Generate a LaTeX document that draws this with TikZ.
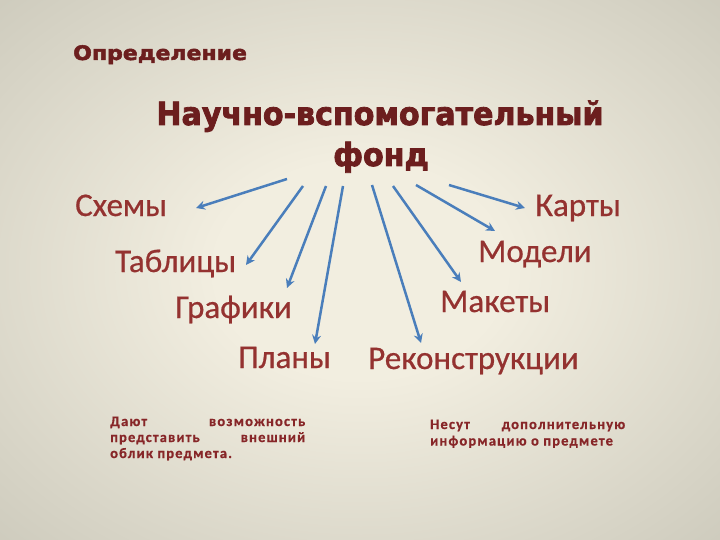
\documentclass[tikz,border=0pt]{standalone}
\usepackage{fontspec}
\usetikzlibrary{arrows.meta}
\setmainfont{Carlito}
\newfontfamily\titlefont[FakeStretch=0.94, BoldFeatures={FakeBold=2.5}]{DejaVu Sans}
\newfontfamily\headfont[FakeStretch=1.1, BoldFeatures={FakeBold=2.5}]{DejaVu Sans}
\newfontfamily\labelfont[FakeBold=0.6]{Carlito}
\newfontfamily\smallfont[LetterSpace=8, BoldFeatures={LetterSpace=8, FakeBold=0.6}]{Carlito}
\definecolor{bgin}{RGB}{242,238,224}
\definecolor{bgmid}{RGB}{186,184,170}
\definecolor{bgout}{RGB}{160,160,146}
\definecolor{titlered}{RGB}{108,30,30}
\definecolor{labelred}{RGB}{148,50,48}
\definecolor{smallred}{RGB}{135,38,40}
\definecolor{arrowblue}{RGB}{74,126,187}
\pgfdeclareradialshading{bgshade}{\pgfpoint{0bp}{0bp}}{color(0bp)=(bgin); color(10bp)=(bgin); color(50bp)=(bgmid); color(71bp)=(bgout); color(100bp)=(bgout)}
\begin{document}
\begin{tikzpicture}[x=1pt,y=-1pt,
  heading/.style={inner sep=0pt, text=titlered, font=\headfont\bfseries\fontsize{20}{24}\selectfont},
  bigtitle/.style={inner sep=0pt, text=titlered, font=\titlefont\bfseries\fontsize{32}{38}\selectfont},
  item/.style={inner sep=0pt, anchor=base west, text=labelred, font=\labelfont\fontsize{33}{36}\selectfont},
  note/.style={inner sep=0pt, anchor=base west, text=smallred, font=\smallfont\bfseries\fontsize{14.5}{16}\selectfont},
  link/.style={draw=arrowblue, line width=2.5pt, -{Stealth[length=9pt,width=9pt]}}
]
\useasboundingbox (0,0) rectangle (720,540);
\shade[shading=bgshade] (0,0) rectangle (720,540);

\node[heading, anchor=base west] (def) at (73,60) {Определение};
\node[bigtitle, anchor=base] (t1) at (380,125) {Научно-вспомогательный};
\node[bigtitle, anchor=base] (t2) at (381,166) {фонд};

\node[item] (schemy) at (75,216) {Схемы};
\node[item] (tabl) at (115,272) {Таблицы};
\node[item] (graf) at (175,318) {Графики};
\node[item] (plany) at (238,368) {Планы};
\node[item] (rekon) at (368,369) {Реконструкции};
\node[item] (maket) at (440,312) {Макеты};
\node[item] (model) at (478,262) {Модели};
\node[item] (karty) at (535,216) {Карты};

\coordinate (s1) at (287,179); \coordinate (e1) at (196,208);
\coordinate (s2) at (303,186); \coordinate (e2) at (246,265);
\coordinate (s3) at (326,186); \coordinate (e3) at (287,288);
\coordinate (s4) at (343,186); \coordinate (e4) at (315,344);
\coordinate (s5) at (372,185); \coordinate (e5) at (421,343);
\coordinate (s6) at (393,186); \coordinate (e6) at (461,282);
\coordinate (s7) at (416,185); \coordinate (e7) at (495,231);
\coordinate (s8) at (449,185); \coordinate (e8) at (525,208);
\foreach \i in {1,...,8} { \draw[link] (s\i) -- (e\i); }

\node[note] (n1) at (110,426) {\vtop{\baselineskip=16pt \hbox to 195pt{Дают\hfill возможность}\hbox to 195pt{представить\hfill внешний}\hbox{облик предмета.}}};
\node[note] (n2) at (430,429) {\vtop{\baselineskip=16.5pt \hbox to 195pt{Несут\hfill дополнительную}\hbox to 195pt{информацию о предмете\hfill}}};
\end{tikzpicture}
\end{document}
